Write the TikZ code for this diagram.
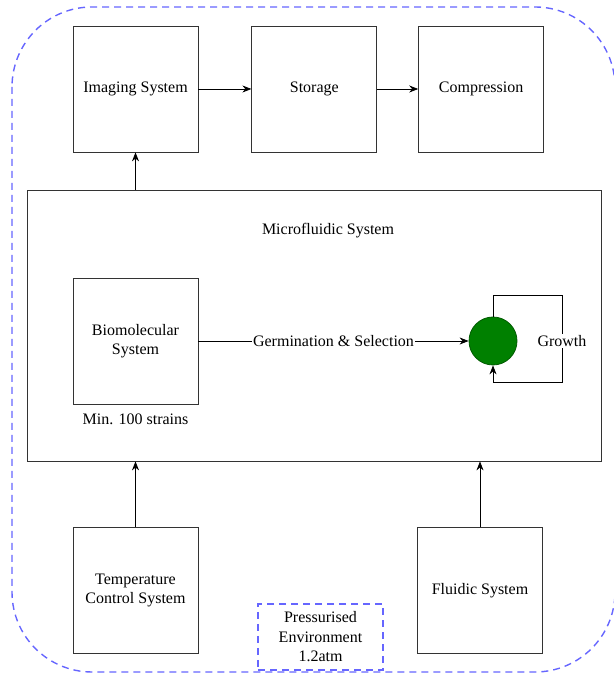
\documentclass[tikz,border=0pt]{standalone}
\usepackage{fontspec}
\setmainfont{Liberation Serif}
\usepackage{xcolor}
\usetikzlibrary{positioning,arrows.meta}

\definecolor{envblue}{RGB}{102,102,255}
\definecolor{cellgreen}{RGB}{0,128,0}

\begin{document}
\begin{tikzpicture}[
  x=1pt, y=1pt,
  font=\fontsize{16}{19.5}\selectfont,
  box/.style={draw=black!80, line width=0.8pt, align=center,
              inner sep=2pt, minimum width=125pt, minimum height=126pt},
  env/.style={draw=envblue, line width=1.4pt, dash pattern=on 7pt off 5pt},
  cell/.style={circle, draw=cellgreen!70!black, fill=cellgreen,
               line width=0.8pt, minimum size=48pt, inner sep=0pt},
  lbl/.style={fill=white, inner sep=1.5pt},
  arr/.style={-{Stealth[length=9pt, width=7pt]}, draw=black, line width=0.8pt}]

\useasboundingbox (0,0) rectangle (613,677);

% pressurised environment
\draw[env, rounded corners=80pt] (12,670) rectangle (615,5);

\node[box] (img) at (135.5,588) {Imaging System};
\node[box, right=53pt of img] (sto) {Storage};
\node[box, right=41pt of sto] (comp) {Compression};

\node[box, minimum width=574pt, minimum height=271pt] (micro) at (314,351.5) {};
\node (microlbl) at (328,446) {Microfluidic System};

\node[box] (bio) at (135.5,336) {Biomolecular\\System};
\node[below=6pt of bio] (strains) {Min. 100 strains};
\node[cell] (germ) at (493,336) {};

\node[box] (temp) at (135.5,86.5) {Temperature\\Control System};
\node[box] (fluid) at (480,86.5) {Fluidic System};

\node[env, align=center, minimum width=125pt, minimum height=66pt,
      inner sep=2pt] (press) at (320.5,40) {Pressurised\\Environment\\1.2atm};

\draw[arr] (img) -- (sto);
\draw[arr] (sto) -- (comp);
\draw[arr] (img |- micro.north) -- (img);
\draw[arr] (temp) -- (temp |- micro.south);
\draw[arr] (fluid) -- (fluid |- micro.south);
\draw[arr] (bio) -- node[lbl] {Germination \& Selection} (germ);
\draw[arr] (germ.north) -- ++(0,21) -| ++(69,-87) -| (germ.south);
\node[lbl] (grow) at (562,336) {Growth};
\end{tikzpicture}
\end{document}
